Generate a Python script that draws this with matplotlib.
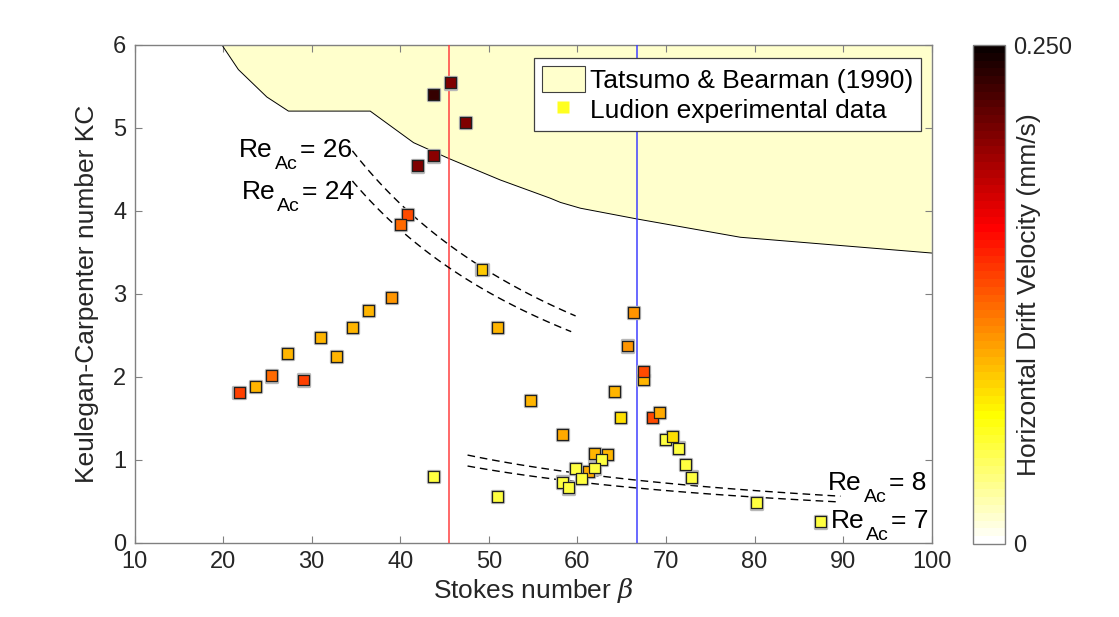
import numpy as np
import matplotlib
matplotlib.use("Agg")
import matplotlib.pyplot as plt
from matplotlib.patches import Patch
from matplotlib.lines import Line2D
from matplotlib.colors import Normalize
from matplotlib.cm import ScalarMappable

plt.rcParams['font.family'] = ['Liberation Sans', 'DejaVu Sans']
plt.rcParams['mathtext.fontset'] = 'custom'
plt.rcParams['mathtext.rm'] = 'Liberation Sans'
plt.rcParams['mathtext.it'] = 'DejaVu Serif:italic'

# ---- data ----
beta = [43.73, 45.65, 47.34, 43.73, 41.92, 40.82, 40.0, 49.23,
        21.81, 23.65, 25.46, 27.27, 29.07, 30.99, 32.80, 34.61, 36.42, 38.98,
        43.76, 50.99, 50.99, 54.69, 58.34,
        66.36, 65.68, 67.49, 67.49, 64.21, 64.89, 68.51, 69.30,
        69.94, 70.77, 71.45, 72.24, 72.92,
        61.28, 61.95, 63.42, 62.75, 59.81, 61.95, 60.45, 58.34, 59.02,
        80.23, 87.46]
kc = [5.40, 5.54, 5.06, 4.66, 4.54, 3.95, 3.83, 3.29,
      1.81, 1.88, 2.01, 2.28, 1.96, 2.47, 2.24, 2.59, 2.80, 2.95,
      0.80, 2.59, 0.56, 1.71, 1.30,
      2.77, 2.37, 1.97, 2.06, 1.82, 1.51, 1.51, 1.57,
      1.24, 1.28, 1.14, 0.94, 0.79,
      0.86, 1.07, 1.06, 1.00, 0.89, 0.90, 0.77, 0.73, 0.66,
      0.48, 0.25]
drift = [0.232, 0.205, 0.205, 0.200, 0.205, 0.130, 0.120, 0.085,
         0.135, 0.090, 0.120, 0.090, 0.135, 0.090, 0.090, 0.090, 0.090, 0.105,
         0.050, 0.090, 0.050, 0.090, 0.095,
         0.105, 0.105, 0.090, 0.130, 0.090, 0.075, 0.130, 0.095,
         0.050, 0.075, 0.050, 0.050, 0.050,
         0.095, 0.090, 0.090, 0.050, 0.050, 0.050, 0.050, 0.050, 0.050,
         0.050, 0.050]

# Tatsumo & Bearman (1990) boundary
tb_beta = [19.85, 21.73, 24.94, 27.38, 36.61, 41.50, 45.46, 51.30, 56.95,
           58.08, 60.34, 66.75, 78.4, 100.0]
tb_kc = [6.00, 5.70, 5.37, 5.20, 5.20, 4.82, 4.63, 4.37, 4.15,
         4.10, 4.03, 3.90, 3.68, 3.49]

# Constant Re_Ac curves: KC = 2*pi*Re/beta
re_values = [26, 24, 8, 7]
re_beta_start = [34.6, 34.6, 47.6, 47.6]
re_beta_end = [59.8, 59.3, 89.7, 89.7]
re_label_pos = [(21.8, 4.65), (22.1, 4.14), (88.3, 0.64), (88.6, 0.18)]

red_line_beta = 45.5
blue_line_beta = 66.7

x_ticks = [10, 20, 30, 40, 50, 60, 70, 80, 90, 100]
y_ticks = [0, 1, 2, 3, 4, 5, 6]

# ---- figure ----
W, H = 1119, 617
fig = plt.figure(figsize=(W / 100, H / 100), dpi=100)
ax = fig.add_axes([134.5 / W, (H - 542.7) / H, 797.2 / W, 498 / H])

txt = '#262626'
spine = '#808080'
fill_c = '#FFFFCC'

ax.fill_between(tb_beta, tb_kc, 6, facecolor=fill_c, edgecolor='none', zorder=1)
ax.plot(tb_beta, tb_kc, color='black', lw=0.7, zorder=2)

ax.axvline(red_line_beta, color='#FF4040', lw=1.1, zorder=3)
ax.axvline(blue_line_beta, color='#4040FF', lw=1.1, zorder=3)

for re, b0, b1, (lx, ly) in zip(re_values, re_beta_start, re_beta_end, re_label_pos):
    b = np.linspace(b0, b1, 100)
    ax.plot(b, 2 * np.pi * re / b, color='black', lw=1.0, ls=(0, (5.5, 3.5)), zorder=4)
    t1 = ax.text(lx, ly, 'Re', fontsize=19, color='black', ha='left',
                 va='baseline', zorder=6)
    t2 = ax.annotate('Ac', xy=(1, 0), xycoords=t1, xytext=(1.5, -5.2),
                     textcoords='offset points', fontsize=14, color='black',
                     ha='left', va='baseline', zorder=6)
    ax.annotate('= %d' % re, xy=(1, 0), xycoords=(t2, t1), xytext=(1.5, 0),
                textcoords='offset points', fontsize=19, color='black',
                ha='left', va='bottom', zorder=6)

cmap = plt.get_cmap('hot_r', 64)
norm = Normalize(0, 0.25)
ax.scatter(beta, kc, marker='s', s=66, facecolor='none', edgecolor='#b8b8b8',
           linewidth=2.4, zorder=4.5)
ax.scatter(beta, kc, c=drift, cmap=cmap, norm=norm, marker='s', s=62,
           edgecolor='#202020', linewidth=0.9, zorder=5)

ax.set_xlim(10, 100)
ax.set_ylim(0, 6)
ax.set_xticks(x_ticks)
ax.set_yticks(y_ticks)
ax.tick_params(direction='in', length=5, width=0.8, color=spine, labelcolor=txt,
               labelsize=17, top=True, right=True, pad=6)
for s in ax.spines.values():
    s.set_color(spine)
    s.set_linewidth(1.0)
ax.set_xlabel(r'Stokes number $\beta$', fontsize=19, color=txt, labelpad=2)
ax.set_ylabel('Keulegan-Carpenter number KC', fontsize=19, color=txt, labelpad=10)

handles = [Patch(facecolor=fill_c, edgecolor='#404040', linewidth=0.8),
           Line2D([], [], marker='s', color='none', markerfacecolor='#FFFF20',
                  markeredgecolor='none', markersize=9)]
leg = ax.legend(handles, ['Tatsumo & Bearman (1990)', 'Ludion experimental data'],
                loc='upper right', bbox_to_anchor=(0.9866, 0.9733), borderaxespad=0,
                fontsize=19, fancybox=False, framealpha=1, edgecolor='#404040',
                handlelength=1.6, handleheight=1.17, handletextpad=0.2,
                borderpad=0.3, labelspacing=0.12)
leg.get_frame().set_linewidth(0.9)
leg.set_zorder(10)

cax = fig.add_axes([973 / W, (H - 544) / H, 32 / W, 499 / H])
cb = fig.colorbar(ScalarMappable(norm=norm, cmap=cmap), cax=cax)
cb.set_ticks([0, 0.25])
cb.set_ticklabels(['0', '0.250'])
cb.ax.tick_params(length=0, labelsize=17, labelcolor=txt, pad=6)
cb.outline.set_edgecolor(spine)
cb.outline.set_linewidth(1.0)
cb.set_label('Horizontal Drift Velocity (mm/s)', fontsize=19, color=txt)
cb.ax.yaxis.set_label_coords(1.38, 0.5)

fig.savefig('out.png', dpi=100)
